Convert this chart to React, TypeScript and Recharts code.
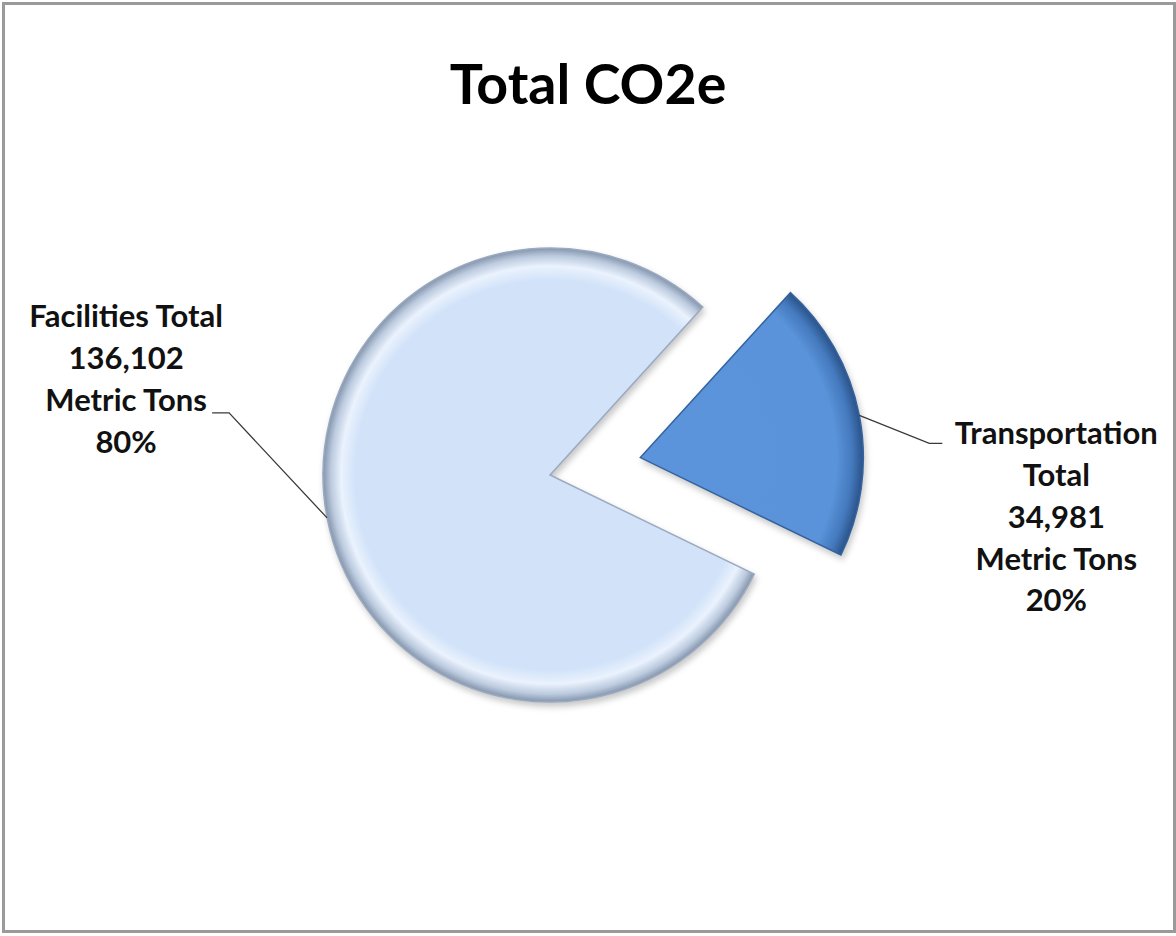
import * as React from "react";
import { PieChart, Pie, Cell } from "recharts";

const categories = ["Transportation Total", "Facilities Total"];
const nameLines = [["Transportation", "Total"], ["Facilities Total"]];
const tons = [34981, 136102];
const unitLabel = "Metric Tons";

const data = categories.map((name, i) => ({ name, value: tons[i] }));

const RAD = Math.PI / 180;
const CX = 550;
const CY = 475;
const RADIUS = 227;
const START = 47.7;
const EXPLODE = 92;

// mid angle of the exploded (first) slice, recharts angles (ccw from 3 o'clock)
const total = tons.reduce((a, b) => a + b, 0);
const midFirst = START - ((tons[0] / total) * 360) / 2;
const exCx = CX + EXPLODE * Math.cos(midFirst * RAD);
const exCy = CY - EXPLODE * Math.sin(midFirst * RAD);

const FONT = "Lato, 'Open Sans', sans-serif";

// per-slice leader/label layout: elbow offset from slice edge, tail, text offset
const labelLayout = [
  { elbow: [70, 28], tail: 13, textDx: 114, textDy: -11, step: 41.7 },
  { elbow: [-98, -105], tail: -17, textDx: -86, textDy: -98, step: 42 },
];

function renderLabel(which: number) {
  return (props: any) => {
    const { cx, cy, midAngle, outerRadius, percent, index, value } = props;
    if (index !== which) return null;
    const lay = labelLayout[index];
    const sx = cx + outerRadius * Math.cos(-midAngle * RAD);
    const sy = cy + outerRadius * Math.sin(-midAngle * RAD);
    const ex = sx + lay.elbow[0];
    const ey = sy + lay.elbow[1];
    const tx = ex + lay.tail;
    const lines = [
      ...nameLines[index],
      Number(value).toLocaleString("en-US"),
      unitLabel,
      `${Math.round(percent * 100)}%`,
    ];
    return (
      <g key={`lbl-${index}`}>
        <polyline
          points={`${sx},${sy} ${ex},${ey} ${tx},${ey}`}
          fill="none"
          stroke="#3a3a3a"
          strokeWidth={1.3}
        />
        {lines.map((t, k) => (
          <text
            key={k}
            x={tx + lay.textDx}
            y={ey + lay.textDy + k * lay.step}
            textAnchor="middle"
            dominantBaseline="central"
            fontFamily={FONT}
            fontWeight={700}
            fontSize={31}
            fill="#111"
          >
            {t}
          </text>
        ))}
      </g>
    );
  };
}

export default function App() {
  return (
    <div style={{ position: "absolute", left: 0, top: 0, width: 1176, height: 936, background: "#fff" }}>
      <div
        style={{
          position: "absolute",
          left: 2,
          top: 2,
          width: 1174,
          height: 931,
          boxSizing: "border-box",
          border: "3px solid #9a9a9a",
        }}
      />
      <div
        style={{
          position: "absolute",
          left: 0,
          top: 51,
          width: 1176,
          textAlign: "center",
          fontFamily: FONT,
          fontWeight: 700,
          fontSize: 55.5,
          lineHeight: "64px",
          color: "#000",
        }}
      >
        Total CO2e
      </div>
      <div style={{ position: "absolute", left: 0, top: 0 }}>
        <PieChart width={1176} height={936} margin={{ top: 0, right: 0, bottom: 0, left: 0 }}>
          <defs>
            <radialGradient id="facFill" gradientUnits="userSpaceOnUse" cx={CX} cy={CY} r={RADIUS}>
              <stop offset="0" stopColor="#d2e3f9" />
              <stop offset="0.86" stopColor="#d2e3f9" />
              <stop offset="0.92" stopColor="#eaf2fd" />
              <stop offset="0.965" stopColor="#bccbdf" />
              <stop offset="1" stopColor="#8494ab" />
            </radialGradient>
            <radialGradient id="trFill" gradientUnits="userSpaceOnUse" cx={exCx} cy={exCy} r={RADIUS - 4}>
              <stop offset="0" stopColor="#5b94da" />
              <stop offset="0.88" stopColor="#5a93d9" />
              <stop offset="0.95" stopColor="#4479bd" />
              <stop offset="1" stopColor="#2a5288" />
            </radialGradient>
          </defs>
          <Pie
            data={data}
            dataKey="value"
            nameKey="name"
            cx={CX}
            cy={CY}
            outerRadius={RADIUS}
            startAngle={START}
            endAngle={START - 360}
            isAnimationActive={false}
            label={renderLabel(1)}
            labelLine={false}
          >
            <Cell fill="none" stroke="none" />
            <Cell
              fill="url(#facFill)"
              stroke="#9aaac0"
              strokeWidth={1.5}
              style={{ filter: "drop-shadow(2px 4px 3px rgba(0,0,0,0.22))" }}
            />
          </Pie>
          <Pie
            data={data}
            dataKey="value"
            nameKey="name"
            cx={exCx}
            cy={exCy}
            outerRadius={RADIUS - 4}
            startAngle={START}
            endAngle={START - 360}
            isAnimationActive={false}
            label={renderLabel(0)}
            labelLine={false}
          >
            <Cell
              fill="url(#trFill)"
              stroke="#35639f"
              strokeWidth={1.5}
              style={{ filter: "drop-shadow(2px 4px 3px rgba(0,0,0,0.22))" }}
            />
            <Cell fill="none" stroke="none" />
          </Pie>
        </PieChart>
      </div>
    </div>
  );
}
